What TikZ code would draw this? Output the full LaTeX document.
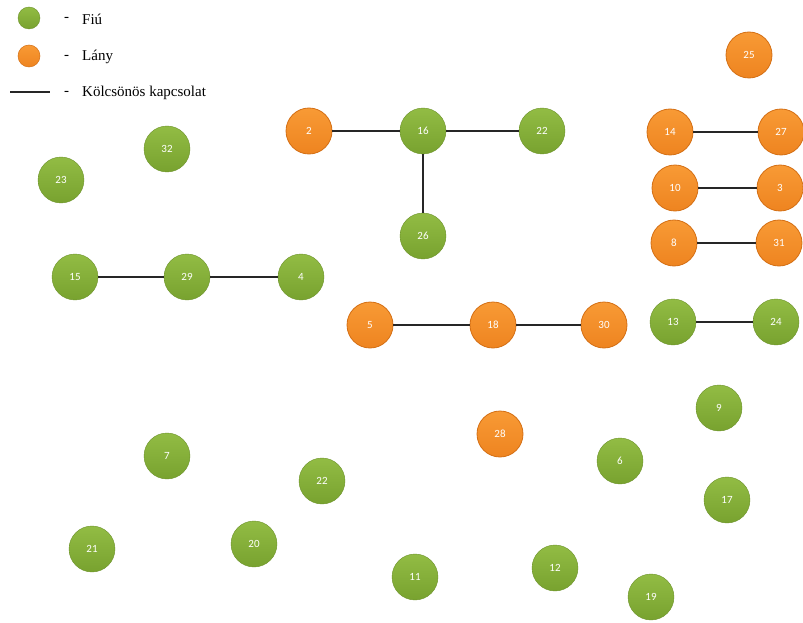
\documentclass[tikz,border=0pt]{standalone}
\usepackage{fontspec}
\setmainfont{Liberation Serif}
\newfontfamily\numfont{Carlito}
\begin{document}
\begin{tikzpicture}[x=1pt,y=-1pt,
  boy/.style={circle,minimum size=46pt,inner sep=0pt,
    top color=mygreenL, bottom color=mygreenD,
    draw=mygreenD!90!black, line width=0.4pt,
    text=white,font=\numfont\fontsize{11}{13}\selectfont},
  girl/.style={circle,minimum size=46pt,inner sep=0pt,
    top color=myorangeL, bottom color=myorangeD,
    draw=myorangeE, line width=0.8pt,
    text=white,font=\numfont\fontsize{11}{13}\selectfont},
  link/.style={line width=2.2pt,draw=black!85},
  legtext/.style={anchor=west,font=\fontsize{15}{17}\selectfont,inner sep=0pt}]
\definecolor{mygreenL}{HTML}{92BC44}
\definecolor{mygreenD}{HTML}{78A22F}
\definecolor{myorangeL}{HTML}{F89A35}
\definecolor{myorangeD}{HTML}{EE8420}
\definecolor{myorangeE}{HTML}{D46F14}
\useasboundingbox (0,0) rectangle (803,623);
% legend
\node[boy,minimum size=22pt] (lb) at (29,18) {};
\node[girl,minimum size=22pt,line width=0.5pt] (lg) at (29,56) {};
\coordinate (la) at (10,92);
\coordinate (lz) at (50,92);
\draw[link] (la) -- (lz);
\node[legtext] (d1) at (64,19) {-};
\node[legtext] (d2) at (64,57) {-};
\node[legtext] (d3) at (64,93) {-};
\node[legtext] (t1) at (82,19) {Fiú};
\node[legtext] (t2) at (82,57) {Lány};
\node[legtext] (t3) at (82,93) {Kölcsönös kapcsolat};
% nodes
\node[girl] (n2) at (309,131) {2};
\node[boy] (n16) at (423,131) {16};
\node[boy] (n22a) at (542,131) {22};
\node[boy] (n26) at (423,236) {26};
\node[boy] (n32) at (167,149) {32};
\node[boy] (n23) at (61,180) {23};
\node[boy] (n15) at (75,277) {15};
\node[boy] (n29) at (187,277) {29};
\node[boy] (n4) at (301,277) {4};
\node[girl] (n5) at (370,325) {5};
\node[girl] (n18) at (493,325) {18};
\node[girl] (n30) at (604,325) {30};
\node[girl] (n25) at (749,55) {25};
\node[girl] (n14) at (670,132) {14};
\node[girl] (n27) at (781,132) {27};
\node[girl] (n10) at (675,188) {10};
\node[girl] (n3) at (780,188) {3};
\node[girl] (n8) at (674,243) {8};
\node[girl] (n31) at (779,243) {31};
\node[boy] (n13) at (673,322) {13};
\node[boy] (n24) at (776,322) {24};
\node[boy] (n9) at (719,408) {9};
\node[girl] (n28) at (500,434) {28};
\node[boy] (n6) at (620,461) {6};
\node[boy] (n7) at (167,456) {7};
\node[boy] (n22b) at (322,481) {22};
\node[boy] (n17) at (727,500) {17};
\node[boy] (n21) at (92,549) {21};
\node[boy] (n20) at (254,544) {20};
\node[boy] (n11) at (415,577) {11};
\node[boy] (n12) at (555,568) {12};
\node[boy] (n19) at (651,597) {19};
% links
\draw[link] (n2) -- (n16);
\draw[link] (n16) -- (n22a);
\draw[link] (n16) -- (n26);
\draw[link] (n15) -- (n29);
\draw[link] (n29) -- (n4);
\draw[link] (n5) -- (n18);
\draw[link] (n18) -- (n30);
\draw[link] (n14) -- (n27);
\draw[link] (n10) -- (n3);
\draw[link] (n8) -- (n31);
\draw[link] (n13) -- (n24);
\end{tikzpicture}
\end{document}
